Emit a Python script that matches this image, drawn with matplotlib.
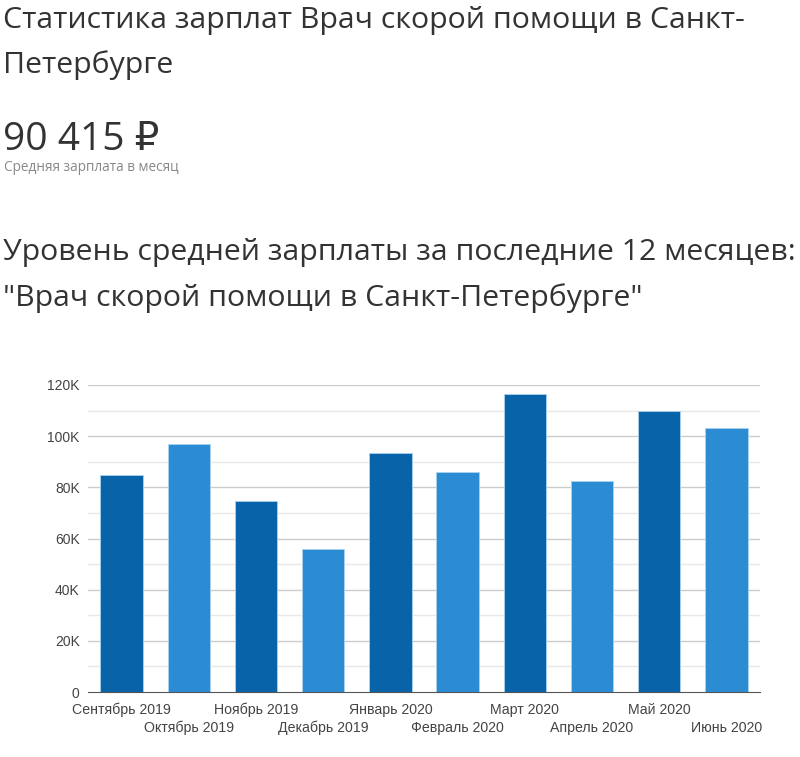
import numpy as np
import matplotlib.pyplot as plt

months = ["Сентябрь 2019", "Октябрь 2019", "Ноябрь 2019", "Декабрь 2019",
          "Январь 2020", "Февраль 2020", "Март 2020", "Апрель 2020",
          "Май 2020", "Июнь 2020"]
salary = [84800, 97000, 74700, 55900, 93400, 86000, 116500, 82500, 109800, 103200]
ytick_vals = [0, 20000, 40000, 60000, 80000, 100000, 120000]
ytick_labels = ["0", "20K", "40K", "60K", "80K", "100K", "120K"]

dark = "#0863a8"
light = "#2b8bd3"

W, H = 800, 757
fig = plt.figure(figsize=(W / 100, H / 100), dpi=100)

title_font = ["Open Sans", "DejaVu Sans"]


def put(px, py, s, size, color="#333333"):
    # py = baseline in pixels from top
    fig.text(px / W, 1 - py / H, s, fontsize=size, color=color,
             family=title_font, va="baseline", ha="left")


put(3, 28, "Статистика зарплат Врач скорой помощи в Санкт-", 21.8)
put(3, 73, "Петербурге", 21.8)
put(3, 150, "90 415 ₽", 28)
put(4, 171, "Средняя зарплата в месяц", 9.8, "#888888")
put(3, 260, "Уровень средней зарплаты за последние 12 месяцев:", 21.8)
put(3, 306, "\"Врач скорой помощи в Санкт-Петербурге\"", 21.8)

ax = fig.add_axes([88 / W, 1 - 692 / H, 672 / W, 307 / H])
x = np.arange(len(months))
colors = [dark if i % 2 == 0 else light for i in range(len(months))]
ax.bar(x, salary, width=0.63, color=colors, edgecolor="#a9d4f0", linewidth=0.6, zorder=3)

ax.set_xlim(-0.5, len(months) - 0.5)
ax.set_ylim(0, 120000)
ax.set_yticks(ytick_vals)
ax.set_yticklabels(ytick_labels)
for v in range(10000, 120001, 10000):
    if v % 20000 == 0:
        ax.axhline(v, color="#cccccc", lw=1, zorder=1)
    else:
        ax.axhline(v, color="#e8e8e8", lw=1, zorder=1)

for s in ["top", "right", "left"]:
    ax.spines[s].set_visible(False)
ax.spines["bottom"].set_color("#555555")
ax.spines["bottom"].set_zorder(4)
ax.tick_params(axis="both", length=0, labelsize=10, labelcolor="#444444", pad=6)
for lab in ax.get_yticklabels():
    lab.set_family(["Liberation Sans", "DejaVu Sans"])
ax.set_xticks([])
for i, m in enumerate(months):
    off = -0.035 if i % 2 == 0 else -0.093
    ax.text(i, off, m, transform=ax.get_xaxis_transform(), ha="center", va="top",
            fontsize=10.2, color="#444444", family=["Liberation Sans", "DejaVu Sans"])

fig.savefig("out.png", dpi=100)
